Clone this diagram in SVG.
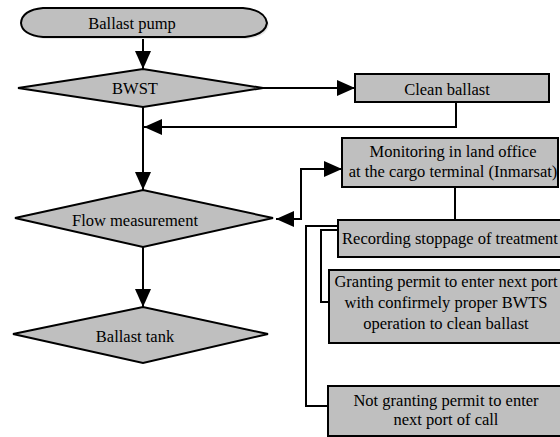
<svg xmlns="http://www.w3.org/2000/svg" width="560" height="437" viewBox="0 0 560 437">
<defs>
<style>
.shape{fill:#bfbfbf;stroke:#000;stroke-width:2}
.ln{fill:none;stroke:#000;stroke-width:2}
text{font-family:"Liberation Serif","Times New Roman",serif;font-size:16.5px;fill:#000;text-anchor:middle}
</style>
<marker id="ah" viewBox="0 0 18 16" refX="18" refY="8" markerWidth="18" markerHeight="16" markerUnits="userSpaceOnUse" orient="auto">
<path d="M0,0 L18,8 L0,16 z" fill="#000"/>
</marker>
</defs>
<rect width="560" height="437" fill="#fff"/>
<g id="connectors">
<path class="ln" d="M143,37 V69" marker-end="url(#ah)"/>
<path class="ln" d="M263,88 H355" marker-end="url(#ah)"/>
<path class="ln" d="M456,102 V127 H144" marker-end="url(#ah)"/>
<path class="ln" d="M143,107 V190" marker-end="url(#ah)"/>
<path class="ln" d="M143,247 V307" marker-end="url(#ah)"/>
<path class="ln" d="M302,219 H276" marker-end="url(#ah)"/>
<path class="ln" d="M301,219 V169 H342" marker-end="url(#ah)"/>
<path class="ln" d="M455,187 V220"/>
<path class="ln" d="M338,226 H306 V406 H328"/>
<path class="ln" d="M338,230 H321 V302 H329"/>
</g>
<g id="ballast-pump">
<path d="M45,10 H245 Q267,12 269,25 Q267,37 247,39 H45 Q24,37 23,25 Q24,12 45,10 Z" fill="#e6e6e6"/>
<path class="shape" d="M43,8 H243 Q265,10 267,23 Q265,35 245,37 H43 Q22,35 21,23 Q22,10 43,8 Z"/>
<text x="132" y="29">Ballast pump</text>
</g>
<g id="bwst">
<polygon class="shape" points="18,88 143,69 263,88 143,107"/>
<text x="135" y="94">BWST</text>
</g>
<g id="clean-ballast">
<rect class="shape" x="355" y="74" width="194" height="28"/>
<text x="447" y="95">Clean ballast</text>
</g>
<g id="flow-measurement">
<polygon class="shape" points="15,218 143,190 273,218 143,247"/>
<text x="135" y="226">Flow measurement</text>
</g>
<g id="ballast-tank">
<polygon class="shape" points="13,334 143,307 268,334 143,363"/>
<text x="135" y="342">Ballast tank</text>
</g>
<g id="monitoring">
<rect class="shape" x="342" y="138" width="216" height="49"/>
<text x="453" y="157">Monitoring in land office</text>
<text x="453" y="177">at the cargo terminal (Inmarsat)</text>
</g>
<g id="recording">
<rect class="shape" x="338" y="220" width="226" height="37"/>
<text x="450" y="244">Recording stoppage of treatment</text>
</g>
<g id="granting">
<rect class="shape" x="329" y="270" width="235" height="73"/>
<text x="446" y="287">Granting permit to enter next port</text>
<text x="446" y="308">with confirmely proper BWTS</text>
<text x="446" y="329">operation to clean ballast</text>
</g>
<g id="not-granting">
<rect class="shape" x="328" y="386" width="236" height="50"/>
<text x="446" y="406">Not granting permit to enter</text>
<text x="446" y="425">next port of call</text>
</g>
</svg>
